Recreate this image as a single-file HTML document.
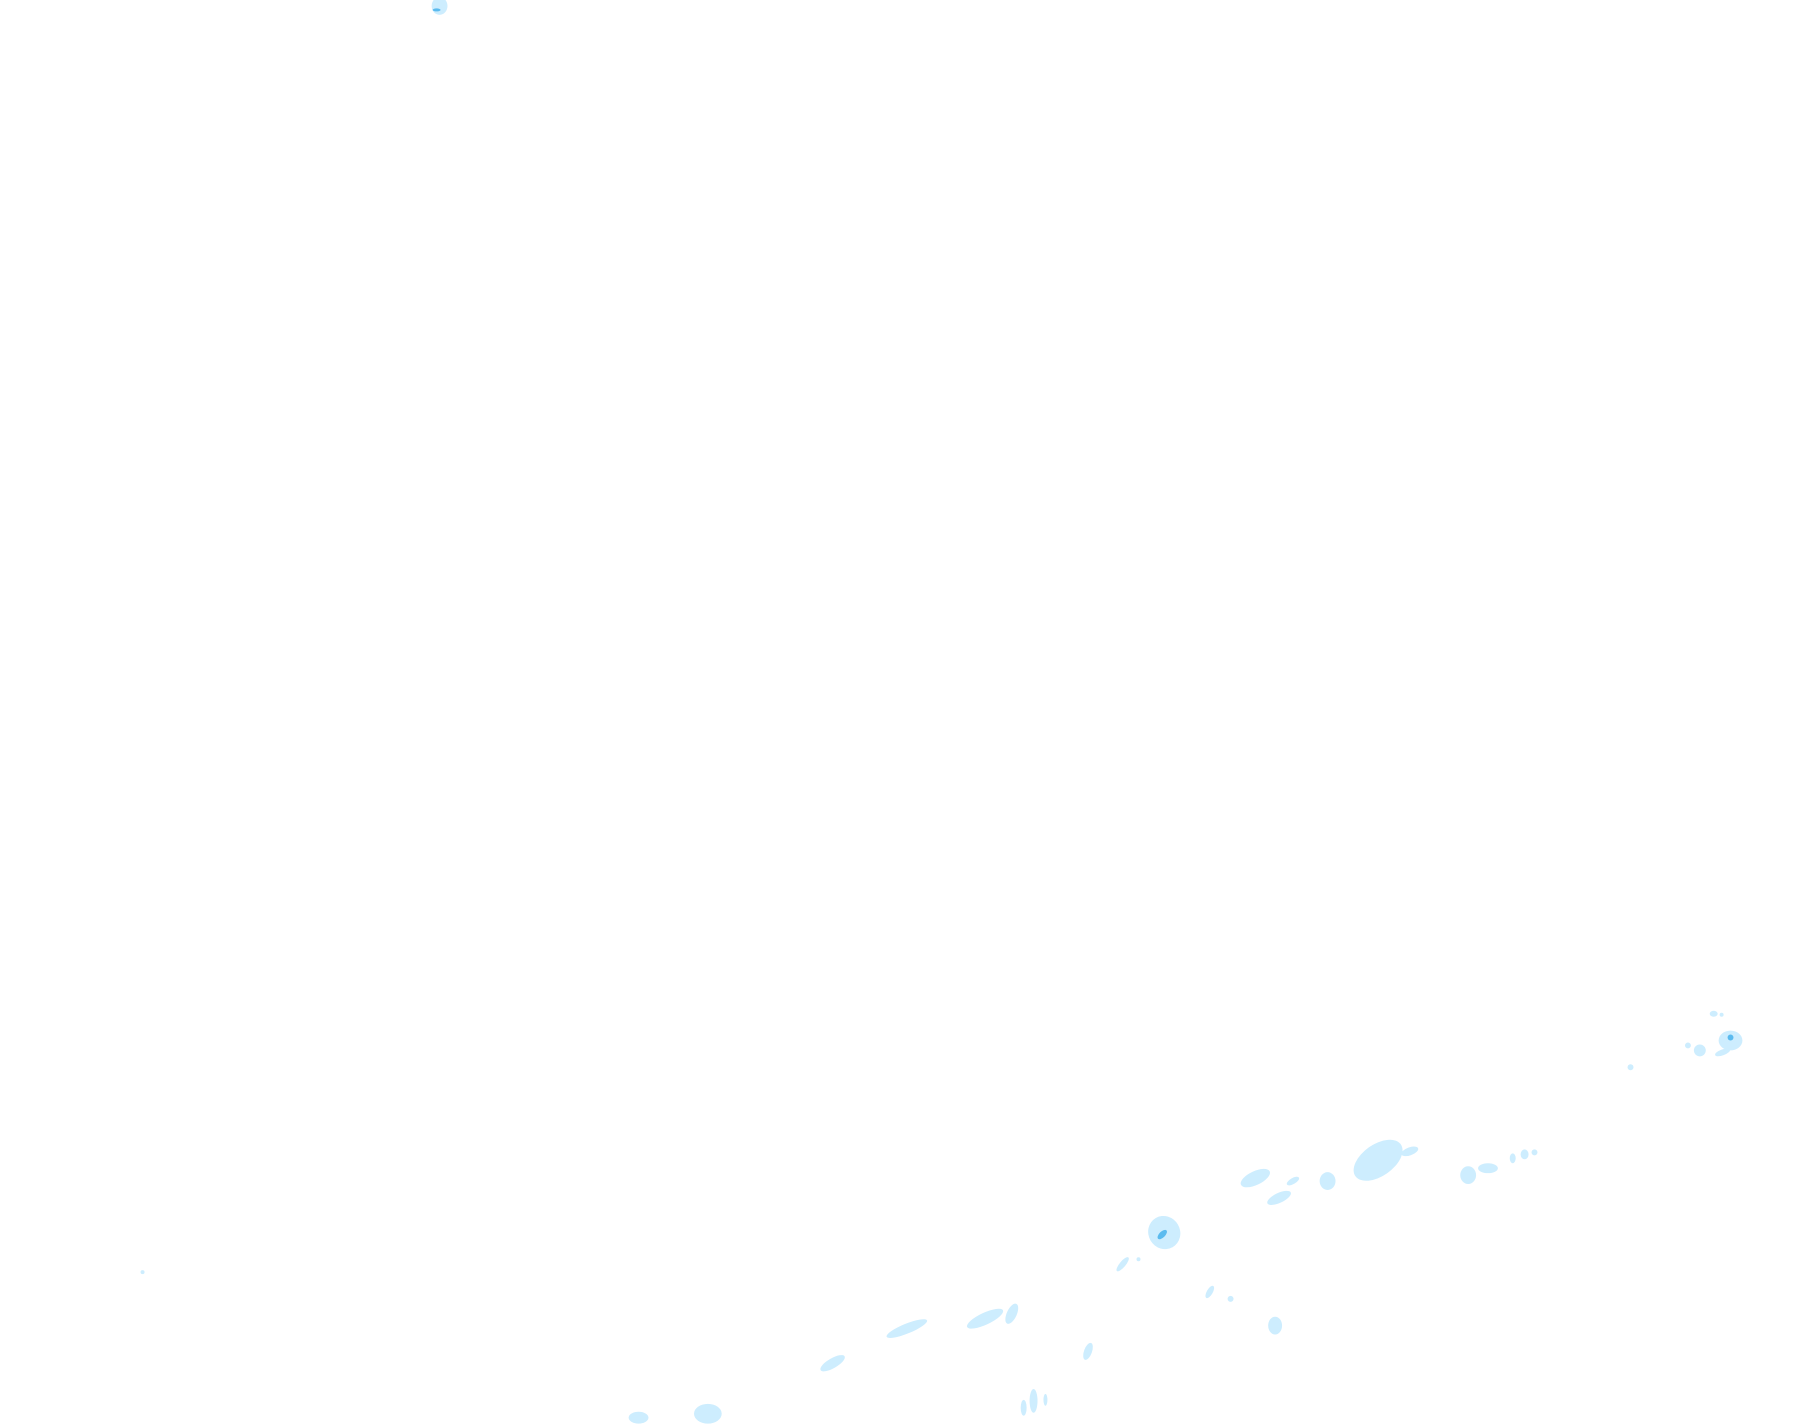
<!DOCTYPE html>
<html><head><meta charset="utf-8"><style>
html,body{margin:0;padding:0;background:#fff;}
svg{display:block}
</style></head><body>
<svg width="1815" height="1424" viewBox="0 0 1815 1424" xmlns="http://www.w3.org/2000/svg">
<g transform="scale(0.99)">
<g fill="#cdedfe">
<ellipse cx="444" cy="6" rx="8" ry="9"/>
<ellipse cx="144" cy="1285" rx="2" ry="2"/>
<ellipse cx="1176" cy="1245" rx="16" ry="17" transform="rotate(-30 1176 1245)"/>
<ellipse cx="1392" cy="1172" rx="28" ry="16" transform="rotate(-35 1392 1172)"/>
<ellipse cx="1268" cy="1190" rx="16" ry="7" transform="rotate(-25 1268 1190)"/>
<ellipse cx="1292" cy="1210" rx="13" ry="5" transform="rotate(-25 1292 1210)"/>
<ellipse cx="1306" cy="1193" rx="7" ry="3" transform="rotate(-30 1306 1193)"/>
<ellipse cx="1341" cy="1193" rx="8" ry="9"/>
<ellipse cx="1424" cy="1163" rx="9" ry="4" transform="rotate(-20 1424 1163)"/>
<ellipse cx="1483" cy="1187" rx="8" ry="9"/>
<ellipse cx="1503" cy="1180" rx="10" ry="5"/>
<ellipse cx="1528" cy="1170" rx="3" ry="5"/>
<ellipse cx="1540" cy="1166" rx="4" ry="5"/>
<ellipse cx="1550" cy="1164" rx="3" ry="3"/>
<ellipse cx="1748" cy="1051" rx="12" ry="10"/>
<ellipse cx="1740" cy="1063" rx="8" ry="3" transform="rotate(-20 1740 1063)"/>
<ellipse cx="1717" cy="1061" rx="6" ry="6"/>
<ellipse cx="1705" cy="1056" rx="3" ry="3"/>
<ellipse cx="1731" cy="1024" rx="4" ry="3"/>
<ellipse cx="1739" cy="1025" rx="2" ry="2"/>
<ellipse cx="1647" cy="1078" rx="3" ry="3"/>
<ellipse cx="1134" cy="1277" rx="3" ry="9" transform="rotate(40 1134 1277)"/>
<ellipse cx="1150" cy="1272" rx="2" ry="2"/>
<ellipse cx="1222" cy="1305" rx="3" ry="7" transform="rotate(30 1222 1305)"/>
<ellipse cx="1243" cy="1312" rx="3" ry="3"/>
<ellipse cx="1288" cy="1339" rx="7" ry="9"/>
<ellipse cx="1099" cy="1365" rx="4" ry="9" transform="rotate(20 1099 1365)"/>
<ellipse cx="1044" cy="1415" rx="4" ry="12"/>
<ellipse cx="1056" cy="1414" rx="2" ry="6"/>
<ellipse cx="1034" cy="1422" rx="3" ry="8"/>
<ellipse cx="995" cy="1332" rx="20" ry="6" transform="rotate(-25 995 1332)"/>
<ellipse cx="1022" cy="1327" rx="5" ry="11" transform="rotate(25 1022 1327)"/>
<ellipse cx="916" cy="1342" rx="22" ry="5" transform="rotate(-22 916 1342)"/>
<ellipse cx="841" cy="1377" rx="14" ry="5" transform="rotate(-30 841 1377)"/>
<ellipse cx="645" cy="1432" rx="10" ry="6"/>
<ellipse cx="715" cy="1428" rx="14" ry="10"/>
</g>
<g fill="#5bbbef">
<ellipse cx="1174" cy="1247" rx="6" ry="3" transform="rotate(-45 1174 1247)"/>
<ellipse cx="1748" cy="1048" rx="3" ry="3"/>
<ellipse cx="441" cy="10" rx="4" ry="1.5"/>
</g>
</g>
</svg>
</body></html>
